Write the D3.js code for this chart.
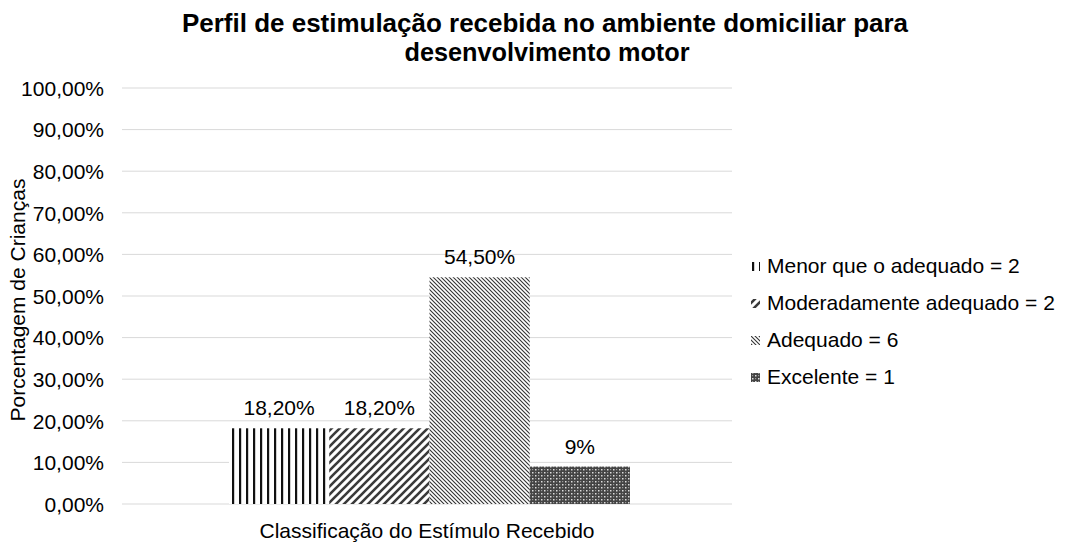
<!DOCTYPE html>
<html>
<head>
<meta charset="utf-8">
<script src="https://cdn.jsdelivr.net/npm/d3@7"></script>
<style>
  body { margin: 0; background: #fff; }
  text { font-family: "Liberation Sans", Arial, sans-serif; fill: #000; }
</style>
</head>
<body>
<svg id="chart" width="1070" height="542"></svg>
<script>
// chart values
var categories = ["Menor que o adequado = 2", "Moderadamente adequado = 2", "Adequado = 6", "Excelente = 1"];
var values = [18.2, 18.2, 54.5, 9];
var valueLabels = ["18,20%", "18,20%", "54,50%", "9%"];
var yTicks = [0, 10, 20, 30, 40, 50, 60, 70, 80, 90, 100];
var titleLines = ["Perfil de estimulação recebida no ambiente domiciliar para", "desenvolvimento motor"];

var svg = d3.select("#chart");

var y = d3.scaleLinear().domain([0, 100]).range([504, 88]);
var x = d3.scaleBand().domain(categories).range([229, 630]).padding(0);

// patterns
var defs = svg.append("defs");
function pat(id, w, h, draw) {
    var p = defs.append("pattern").attr("id", id)
        .attr("patternUnits", "userSpaceOnUse")
        .attr("width", w).attr("height", h);
    p.append("rect").attr("width", w).attr("height", h).attr("fill", "#fff");
    draw(p);
}
pat("p0", 7, 10, function (p) {
    p.append("rect").attr("x", 1).attr("width", 2.2).attr("height", 10).attr("fill", "#111");
});
pat("p1", 8, 8, function (p) {
    p.append("path").attr("d", "M-2,10 L10,-2 M-2,2 L2,-2 M6,10 L10,6")
        .attr("stroke", "#3a3a3a").attr("stroke-width", 2.6);
});
pat("p2", 4, 4, function (p) {
    p.append("path").attr("d", "M-1,-1 L5,5 M-1,3 L1,5 M3,-1 L5,1")
        .attr("stroke", "#333").attr("stroke-width", 1.1);
});
pat("p3", 6, 6, function (p) {
    p.append("rect").attr("width", 6).attr("height", 6).attr("fill", "#444");
    p.append("rect").attr("x", 1).attr("y", 1).attr("width", 1.5).attr("height", 1.5).attr("fill", "#ddd");
    p.append("rect").attr("x", 4).attr("y", 4).attr("width", 1.5).attr("height", 1.5).attr("fill", "#ddd");
    p.append("rect").attr("x", 4).attr("y", 1).attr("width", 1.2).attr("height", 1.2).attr("fill", "#999");
    p.append("rect").attr("x", 1).attr("y", 4).attr("width", 1.2).attr("height", 1.2).attr("fill", "#999");
});
var fills = ["url(#p0)", "url(#p1)", "url(#p2)", "url(#p3)"];

// title
svg.append("g").selectAll("text").data(titleLines).enter().append("text")
    .attr("x", function (d, i) { return i ? 547 : 545; })
    .attr("y", function (d, i) { return 32 + i * 29; })
    .attr("text-anchor", "middle")
    .style("font-size", "25px").style("font-weight", "bold")
    .attr("textLength", function (d, i) { return i ? 285 : 726; })
    .attr("lengthAdjust", "spacingAndGlyphs")
    .text(function (d) { return d; });

// gridlines
svg.append("g").selectAll("line").data(yTicks).enter().append("line")
    .attr("x1", 122).attr("x2", 732)
    .attr("y1", function (d) { return y(d); }).attr("y2", function (d) { return y(d); })
    .attr("stroke", "#d9d9d9").attr("stroke-width", 1);

// y axis labels
var yAxis = d3.axisLeft(y).tickValues(yTicks).tickSize(0).tickPadding(0)
    .tickFormat(function (d) { return d3.format(".2f")(d).replace(".", ",") + "%"; });
var yg = svg.append("g").attr("transform", "translate(104,0)").call(yAxis);
yg.select(".domain").remove();
yg.selectAll("text").style("font-size", "21px").attr("dy", "0.35em")
    .style("font-family", "'Liberation Sans', Arial, sans-serif").attr("fill", "#000");

// bars
svg.append("g").selectAll("rect").data(values).enter().append("rect")
    .attr("x", function (d, i) { return x(categories[i]); })
    .attr("y", function (d) { return y(d); })
    .attr("width", x.bandwidth())
    .attr("height", function (d) { return y(0) - y(d); })
    .attr("fill", function (d, i) { return fills[i]; });

// value labels
svg.append("g").selectAll("text").data(values).enter().append("text")
    .attr("x", function (d, i) { return x(categories[i]) + x.bandwidth() / 2; })
    .attr("y", function (d) { return y(d) - 13; })
    .attr("text-anchor", "middle")
    .style("font-size", "21px")
    .text(function (d, i) { return valueLabels[i]; });

// axis titles
svg.append("text").attr("x", 427).attr("y", 538).attr("text-anchor", "middle")
    .style("font-size", "21px").text("Classificação do Estímulo Recebido");
svg.append("text").attr("transform", "translate(25,300) rotate(-90)")
    .attr("text-anchor", "middle").style("font-size", "21px")
    .text("Porcentagem de Crianças");

// legend
var leg = svg.append("g").selectAll("g").data(categories).enter().append("g")
    .attr("transform", function (d, i) { return "translate(751," + (266 + i * 37) + ")"; });
leg.append("rect").attr("x", 0).attr("y", -4).attr("width", 9).attr("height", 9)
    .attr("fill", function (d, i) { return fills[i]; });
leg.append("text").attr("x", 16).attr("dy", "0.35em")
    .style("font-size", "21px").text(function (d) { return d; });
</script>
</body>
</html>
